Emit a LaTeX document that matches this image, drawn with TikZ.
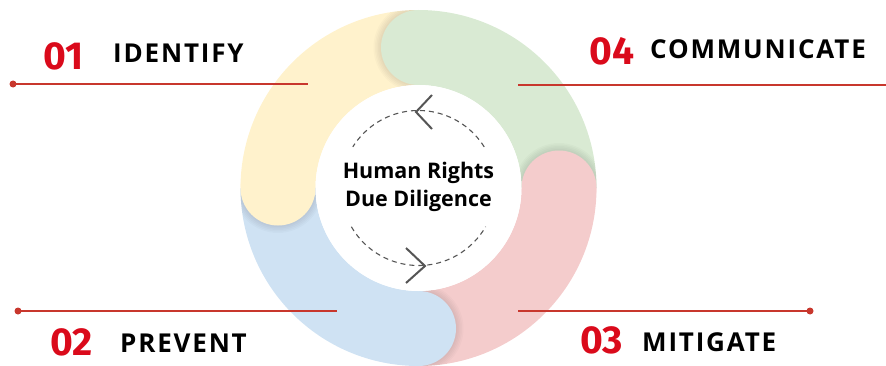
\documentclass[tikz,border=0pt]{standalone}
\usepackage{fontspec}
\setmainfont{Open Sans}
\newfontfamily\numfont{Fira Sans}
\newfontfamily\lblfont{Open Sans}[LetterSpace=7]
\definecolor{numred}{HTML}{DA0A1B}
\definecolor{rulered}{HTML}{C8372D}
\definecolor{ringyellow}{HTML}{FFF2CC}
\definecolor{ringgreen}{HTML}{D9EAD3}
\definecolor{ringpink}{HTML}{F4CCCC}
\definecolor{ringblue}{HTML}{CFE2F3}
\definecolor{cyclegray}{HTML}{555555}
\begin{document}
\begin{tikzpicture}[x=1pt,y=1pt,
  num/.style={anchor=base west, inner sep=0pt, text=numred,
    font=\numfont\fontsize{39}{39}\selectfont\bfseries},
  lbl/.style={anchor=base west, inner sep=0pt, text=black,
    font=\lblfont\fontsize{26}{26}\selectfont\bfseries},
  rule/.style={draw=rulered, line width=1.4pt},
  dot/.style={circle, fill=rulered, inner sep=0pt, minimum size=7pt},
  cycle/.style={draw=cyclegray, line width=1.1pt, dash pattern=on 5pt off 4pt},
  chevron/.style={draw=cyclegray, line width=2pt}
]
\useasboundingbox (0,0) rectangle (886,365);

% ring of four overlapping bands
\coordinate (c) at (418.5,177);
\foreach \col/\a/\b in {ringyellow/90/180, ringgreen/0/90, ringpink/-90/0, ringblue/180/270}
  \draw[\col, line width=75pt] ([shift={(\a:140.5)}]c) arc[start angle=\a, end angle=\b, radius=140.5];

% soft shadow that each rounded head casts on the next band
\foreach \b [evaluate=\b as \e using \b+40] in {180, 90, 0, 270} {
  \begin{scope}
    \clip ([shift={(\b:178)}]c) arc[start angle=\b, end angle=\e, radius=178]
      -- ([shift={(\e:103)}]c) arc[start angle=\e, end angle=\b, radius=103] -- cycle;
    \foreach \r in {45,43.5,...,38}
      \fill[black, opacity=0.018] ([shift={(\b:140.5)}]c) circle[radius=\r];
  \end{scope}
}

% rounded heads
\foreach \col/\b in {ringyellow/180, ringgreen/90, ringpink/0, ringblue/270}
  \fill[\col] ([shift={(\b:140.5)}]c) circle[radius=37.5];

% white centre
\fill[white] (c) circle[radius=103];

% dashed cycle with chevrons
\draw[cycle] ([shift={(32:77.5)}]c) arc[start angle=32, end angle=148, radius=77.5];
\draw[cycle] ([shift={(210:77.5)}]c) arc[start angle=210, end angle=330, radius=77.5];
\coordinate (ta) at (432,270); \coordinate (tv) at (416,253); \coordinate (tb) at (432,236);
\draw[chevron] (ta) -- (tv) -- (tb);
\coordinate (ba) at (406,117); \coordinate (bv) at (425,99); \coordinate (bb) at (406,82);
\draw[chevron] (ba) -- (bv) -- (bb);

\node[align=center, font=\fontsize{21.5}{28}\selectfont\bfseries] (title) at (418.5,178)
  {Human Rights\\Due Diligence};

% step labels
\node[num] (n1) at (43,295) {01};
\node[lbl] (l1) at (113,302) {IDENTIFY};
\node[num] (n4) at (589,300) {04};
\node[lbl] (l4) at (650,306) {COMMUNICATE};
\node[num] (n2) at (50,10) {02};
\node[lbl] (l2) at (120,13) {PREVENT};
\node[num] (n3) at (580,12) {03};
\node[lbl] (l3) at (642,14) {MITIGATE};

% leader rules
\node[dot] (d1) at (13,281) {};
\coordinate (e1) at (308,281);
\draw[rule] (d1.center) -- (e1);
\coordinate (s4) at (518,280);
\coordinate (e4) at (886,280);
\draw[rule] (s4) -- (e4);
\node[dot] (d2) at (18,54) {};
\coordinate (e2) at (337,54);
\draw[rule] (d2.center) -- (e2);
\coordinate (s3) at (518,54);
\node[dot] (d3) at (810,54) {};
\draw[rule] (s3) -- (d3.center);
\end{tikzpicture}
\end{document}
